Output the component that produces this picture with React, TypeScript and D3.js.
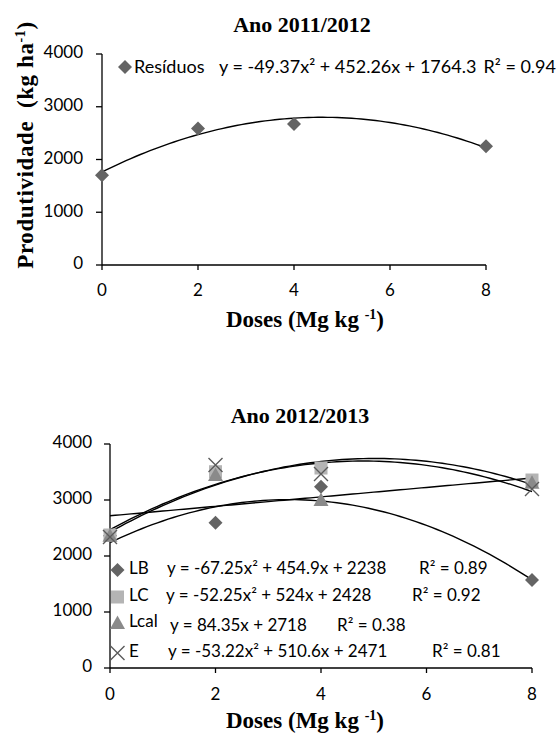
import React from "react";
import * as d3 from "d3";

// doses (Mg kg-1) and axis ticks
const doses = [0, 2, 4, 8];
const xTicks = [0, 2, 4, 6, 8];
const yTicks = [0, 1000, 2000, 3000, 4000];

// Ano 2011/2012
const residuos = [1700, 2590, 2675, 2250];
const residuosFit = [-49.37, 452.26, 1764.3];

// Ano 2012/2013
const lb = [2360, 2595, 3237, 1571];
const lc = [2375, 3505, 3571, 3357];
const lcal = [2360, 3446, 3000, 3310];
const eSeries = [2340, 3625, 3464, 3196];
const lbFit = [-67.25, 454.9, 2238];
const lcFit = [-52.25, 524, 2428];
const lcalFit = [0, 84.35, 2718];
const eFit = [-53.22, 510.6, 2471];

const tickFont = "Lato, 'Open Sans', sans-serif";
const titleFont = "'Liberation Serif', serif";

type Shape = "diamond" | "square" | "triangle" | "cross";

function Marker({ shape, x, y }: { shape: Shape; x: number; y: number }) {
  if (shape === "diamond") {
    const r = 7;
    return <path d={`M${x},${y - r}L${x + r},${y}L${x},${y + r}L${x - r},${y}Z`} fill="#646464" />;
  }
  if (shape === "square") {
    return <rect x={x - 6.5} y={y - 6.5} width={13} height={13} fill="#b4b4b4" />;
  }
  if (shape === "triangle") {
    return <path d={`M${x},${y - 7.5}L${x + 7.5},${y + 6}L${x - 7.5},${y + 6}Z`} fill="#8a8a8a" />;
  }
  const r = 7;
  return (
    <path
      d={`M${x - r},${y - r}L${x + r},${y + r}M${x + r},${y - r}L${x - r},${y + r}`}
      stroke="#5a5a5a"
      strokeWidth={1.4}
      fill="none"
    />
  );
}

function fitLine(coef: number[], xs: d3.ScaleLinear<number, number>, ys: d3.ScaleLinear<number, number>) {
  const pts = d3.range(0, 8.001, 0.1).map((v) => [v, coef[0] * v * v + coef[1] * v + coef[2]] as [number, number]);
  return d3
    .line<[number, number]>()
    .x((d) => xs(d[0]))
    .y((d) => ys(d[1]))(pts) as string;
}

function Axes({
  xs,
  ys,
  yLabelX,
  xLabelY,
}: {
  xs: d3.ScaleLinear<number, number>;
  ys: d3.ScaleLinear<number, number>;
  yLabelX: number;
  xLabelY: number;
}) {
  const [x0, x1] = xs.range();
  const [y0, y1] = ys.range();
  return (
    <g>
      <line x1={x0} x2={x1} y1={y0} y2={y0} stroke="#000" strokeWidth={1.3} />
      <line x1={x0} x2={x0} y1={y0} y2={y1} stroke="#000" strokeWidth={1.3} />
      {xTicks.map((t) => (
        <g key={"x" + t}>
          <line x1={xs(t)} x2={xs(t)} y1={y0} y2={y0 + 5} stroke="#000" strokeWidth={1.3} />
          <text x={xs(t)} y={xLabelY} textAnchor="middle" dominantBaseline="middle" fontFamily={tickFont} fontSize={17}>
            {t}
          </text>
        </g>
      ))}
      {yTicks.map((t) => (
        <g key={"y" + t}>
          <line x1={x0 - 6} x2={x0} y1={ys(t)} y2={ys(t)} stroke="#000" strokeWidth={1.3} />
          <text x={yLabelX} y={ys(t)} textAnchor="end" dominantBaseline="middle" fontFamily={tickFont} fontSize={17}>
            {t}
          </text>
        </g>
      ))}
    </g>
  );
}

export default function App() {
  // top chart
  const xA = d3.scaleLinear().domain([0, 8]).range([102, 486]);
  const yA = d3.scaleLinear().domain([0, 4000]).range([265, 54]);
  // bottom chart
  const xB = d3.scaleLinear().domain([0, 8]).range([110, 532]);
  const yB = d3.scaleLinear().domain([0, 4000]).range([668, 444]);

  const seriesB: { name: string; shape: Shape; values: number[]; fit: number[]; eq: string; r2: string; rowY: number; eqX: number; r2X: number }[] = [
    { name: "LB", shape: "diamond", values: lb, fit: lbFit, eq: "y = -67.25x² + 454.9x + 2238", r2: "R² = 0.89", rowY: 570, eqX: 167, r2X: 419 },
    { name: "LC", shape: "square", values: lc, fit: lcFit, eq: "y = -52.25x² + 524x + 2428", r2: "R² = 0.92", rowY: 597, eqX: 166, r2X: 412 },
    { name: "Lcal", shape: "triangle", values: lcal, fit: lcalFit, eq: "y = 84.35x + 2718", r2: "R² = 0.38", rowY: 623, eqX: 170, r2X: 337 },
    { name: "E", shape: "cross", values: eSeries, fit: eFit, eq: "y = -53.22x² + 510.6x + 2471", r2: "R² = 0.81", rowY: 653, eqX: 168, r2X: 432 },
  ];

  return (
    <svg width={557} height={734} style={{ position: "absolute", left: 0, top: 0, background: "#fff" }}>
      {/* ---------- Ano 2011/2012 ---------- */}
      <text x={302} y={32} textAnchor="middle" fontFamily={titleFont} fontWeight="bold" fontSize={22}>
        Ano 2011/2012
      </text>
      <Axes xs={xA} ys={yA} yLabelX={83} xLabelY={292} />
      <path d={fitLine(residuosFit, xA, yA)} fill="none" stroke="#000" strokeWidth={1.4} />
      {doses.map((d, i) => (
        <Marker key={d} shape="diamond" x={xA(d)} y={yA(residuos[i])} />
      ))}
      <Marker shape="diamond" x={125} y={67} />
      <g fontFamily={tickFont} fontSize={18} dominantBaseline="middle">
        <text x={134} y={68}>Resíduos</text>
        <text x={219} y={68}>y = -49.37x² + 452.26x + 1764.3</text>
        <text x={556} y={68} textAnchor="end">R² = 0.94</text>
      </g>
      <text
        transform="translate(33,145) rotate(-90)"
        textAnchor="middle"
        fontFamily={titleFont}
        fontWeight="bold"
        fontSize={23}
        letterSpacing={0.6}
      >
        Produtividade{"\u00a0\u00a0"}(kg ha<tspan dy={-8} fontSize={14}>-1</tspan>
        <tspan dy={8}>)</tspan>
      </text>
      <text x={305} y={327} textAnchor="middle" fontFamily={titleFont} fontWeight="bold" fontSize={23}>
        Doses (Mg kg <tspan dy={-8} fontSize={14}>-1</tspan>
        <tspan dy={8}>)</tspan>
      </text>

      {/* ---------- Ano 2012/2013 ---------- */}
      <text x={300} y={423} textAnchor="middle" fontFamily={titleFont} fontWeight="bold" fontSize={22}>
        Ano 2012/2013
      </text>
      <Axes xs={xB} ys={yB} yLabelX={92} xLabelY={696} />
      {seriesB.map((s) => (
        <path key={"f" + s.name} d={fitLine(s.fit, xB, yB)} fill="none" stroke="#000" strokeWidth={1.4} />
      ))}
      {seriesB.map((s) => (
        <g key={"p" + s.name}>
          {doses.map((d, i) => (
            <Marker key={d} shape={s.shape} x={xB(d)} y={yB(s.values[i])} />
          ))}
        </g>
      ))}
      {seriesB.map((s) => (
        <g key={"l" + s.name} fontFamily={tickFont} fontSize={17} dominantBaseline="middle">
          <Marker shape={s.shape} x={117.5} y={s.rowY} />
          <text x={129} y={s.rowY}>{s.name}</text>
          <text x={s.eqX} y={s.name === "Lcal" ? s.rowY + 4 : s.rowY}>{s.eq}</text>
          <text x={s.r2X} y={s.name === "Lcal" ? s.rowY + 4 : s.rowY}>{s.r2}</text>
        </g>
      ))}
      <text x={305} y={728} textAnchor="middle" fontFamily={titleFont} fontWeight="bold" fontSize={23}>
        Doses (Mg kg <tspan dy={-8} fontSize={14}>-1</tspan>
        <tspan dy={8}>)</tspan>
      </text>
    </svg>
  );
}
